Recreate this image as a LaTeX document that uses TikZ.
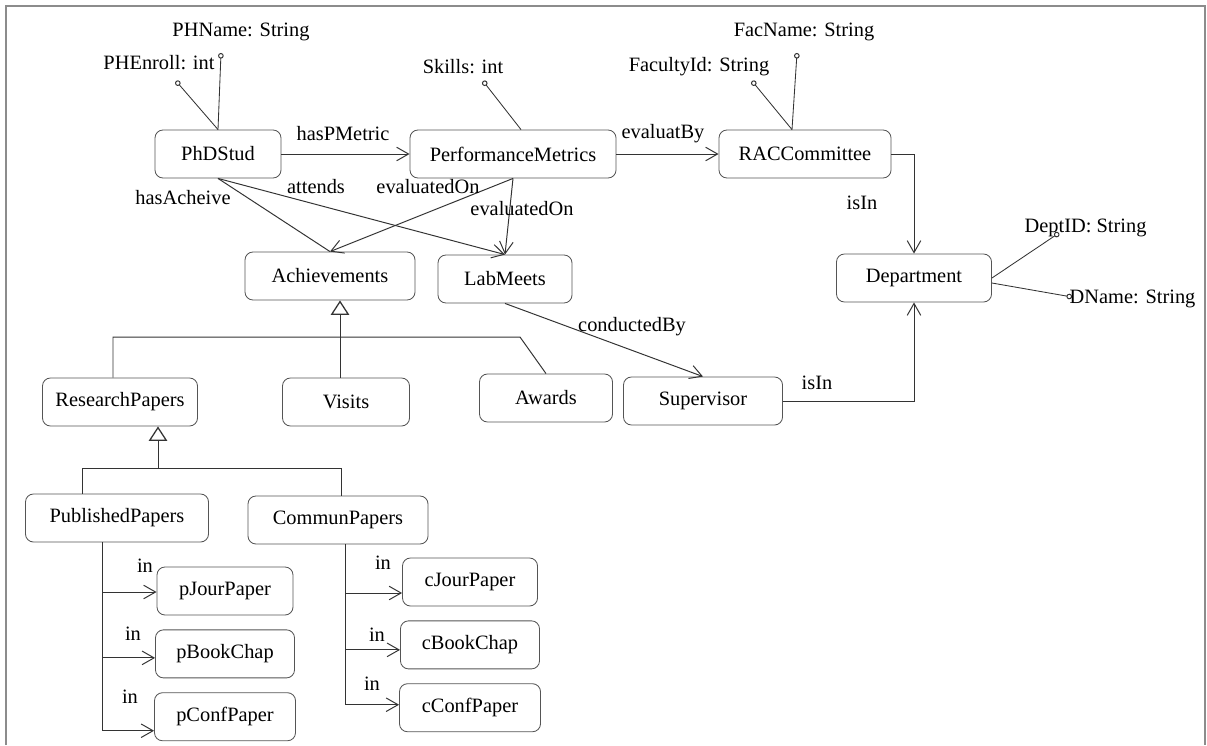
\documentclass[tikz,border=0pt]{standalone}
\usepackage{fontspec}
\setmainfont{Liberation Serif}
\newfontfamily\umlfont{Liberation Serif}
\usetikzlibrary{arrows.meta, positioning}
\definecolor{linegray}{HTML}{333333}
\definecolor{boxgray}{HTML}{555555}
\definecolor{framegray}{HTML}{8C8C8C}

\begin{document}
\begin{tikzpicture}[
    x=0.025cm, y=-0.025cm,
    every node/.style={font=\umlfont\fontsize{14.5}{17}\selectfont, text=black},
    cls/.style={rectangle, rounded corners=0.2cm, draw=boxgray, line width=0.6pt, minimum width=#1, minimum height=1.2cm, inner sep=0pt},
    rel/.style={draw=linegray, line width=0.7pt, -{Straight Barb[length=3mm, width=3.4mm, line width=0.7pt]}},
    plain/.style={draw=linegray, line width=0.7pt},
    isa/.style={draw=linegray, line width=0.7pt, -{Triangle[open, length=3.6mm, width=4.6mm, line width=0.9pt]}},
    attr/.style={draw=linegray, line width=0.6pt, -{Circle[open, length=1.4mm, line width=0.7pt]}},
    lbl/.style={inner sep=1pt}
]
\useasboundingbox (0,0) rectangle (1207,745);
\draw[framegray, line width=1.2pt] (6,745) -- (6,6) -- (1205,6) -- (1205,745);

% --- Top row : classes ---
\node[cls=3.15cm] (phd) at (218,154) {PhDStud};
\node[cls=5.15cm] (pm) at (513,154) {PerformanceMetrics};
\node[cls=4.3cm] (racc) at (805,154) {RACCommittee};
\node[cls=4.25cm] (ach) at (330,276) {Achievements};
\node[cls=3.35cm] (lab) at (505,279) {LabMeets};
\node[cls=3.875cm] (dept) at (914,278) {Department};

% --- Middle row ---
\node[cls=3.875cm] (rp) at (120,402) {ResearchPapers};
\node[cls=3.175cm] (visits) at (346,402) {Visits};
\node[cls=3.325cm] (awards) at (546,398) {Awards};
\node[cls=3.975cm] (sup) at (703,401) {Supervisor};

% --- Paper kinds ---
\node[cls=4.575cm] (pub) at (117,518) {PublishedPapers};
\node[cls=4.5cm] (com) at (338,520) {CommunPapers};
\node[cls=3.4cm] (pj) at (225,591) {pJourPaper};
\node[cls=3.475cm, below=0.35cm of pj] (pb) {pBookChap};
\node[cls=3.525cm, below=0.35cm of pb] (pc) {pConfPaper};
\node[cls=3.375cm] (cj) at (470,582) {cJourPaper};
\node[cls=3.475cm, below=0.35cm of cj] (cb) {cBookChap};
\node[cls=3.525cm, below=0.35cm of cb] (cc) {cConfPaper};

% --- Data properties ---
\coordinate (phnC) at (221,53);
\coordinate (pheC) at (176,81);
\coordinate (skC) at (483,81);
\coordinate (fnC) at (797,53);
\coordinate (fiC) at (752,81);
\coordinate (didC) at (1059,233);
\coordinate (dnC) at (1072,297);
\draw[attr] (phd.north) -- (phnC);
\draw[attr] (phd.north) -- (pheC);
\draw[attr] ([xshift=0.2cm]pm.north) -- (skC);
\draw[attr] ([xshift=-0.325cm]racc.north) -- (fnC);
\draw[attr] ([xshift=-0.325cm]racc.north) -- (fiC);
\draw[attr] (dept.east) -- (didC);
\draw[attr] ([yshift=-0.125cm]dept.east) -- (dnC);
\node (phname) at (241,32) {PHName: String};
\node (phenroll) at (159,63) {PHEnroll: int};
\node (skills) at (463,67) {Skills: int};
\node (facname) at (804,32) {FacName: String};
\node (facid) at (699,67) {FacultyId: String};
\node[lbl, anchor=west] (deptid) at (1023,228) {DeptID: String};
\node[lbl, anchor=west] (dname) at (1068,299) {DName: String};

% --- Object properties ---
\draw[rel] (phd) -- (pm);
\draw[rel] (pm) -- (racc);
\draw[rel] (racc.east) -| (dept.north);
\draw[rel] (sup.east) -| (dept.south);
\draw[plain] (phd.south) -- (ach.north);
\draw[rel] (phd.south) -- (lab.north);
\draw[rel] (pm.south) -- (ach.north);
\draw[rel] (pm.south) -- (lab.north);
\draw[rel] (lab.south) -- (sup.north);

\node[lbl] (hasPMetric) at (343,134) {hasPMetric};
\node[lbl] (evaluatBy) at (663,134) {evaluatBy};
\node[lbl] (isInA) at (862,203) {isIn};
\node[lbl] (isInB) at (817,383) {isIn};
\node[lbl] (hasAcheive) at (183,198) {hasAcheive};
\node[lbl] (attends) at (316,187) {attends};
\node[lbl] (evalOnA) at (428,187) {evaluatedOn};
\node[lbl] (evalOnB) at (522,209) {evaluatedOn};
\node[lbl] (conductedBy) at (632,327) {conductedBy};

% --- Subclass trees ---
\coordinate (gA) at (113,337);
\coordinate (gB) at (520,337);
\coordinate (gV) at (340,337);
\draw[isa] (visits.north -| gV) -- (ach.south -| gV);
\draw[plain] (rp.north -| gA) -- (gA) -- (gB) -- (awards.north);

\coordinate (gR) at (158,468);
\coordinate (gC) at (82,468);
\coordinate (gD) at (341,468);
\draw[isa] (gR) -- (rp.south -| gR);
\draw[plain] (pub.north -| gC) -- (gC) -- (gD) -- (com.north -| gD);

% --- "in" links ---
\coordinate (ptrunk) at (102,0);
\coordinate (ctrunk) at (345,0);
\draw[rel] (pub.south -| ptrunk) |- ([yshift=-0.025cm]pj.west);
\draw[rel] (pub.south -| ptrunk) |- ([yshift=-0.1cm]pb.west);
\draw[rel] (pub.south -| ptrunk) |- ([yshift=-0.35cm]pc.west);
\draw[rel] (com.south -| ctrunk) |- ([yshift=-0.275cm]cj.west);
\draw[rel] (com.south -| ctrunk) |- ([yshift=-0.125cm]cb.west);
\draw[rel] (com.south -| ctrunk) |- ([yshift=0.075cm]cc.west);
\node[lbl] (inPJ) at (145,566) {in};
\node[lbl] (inPB) at (133,634) {in};
\node[lbl] (inPC) at (130,697) {in};
\node[lbl] (inCJ) at (383,563) {in};
\node[lbl] (inCB) at (377,635) {in};
\node[lbl] (inCC) at (372,684) {in};
\end{tikzpicture}
\end{document}
